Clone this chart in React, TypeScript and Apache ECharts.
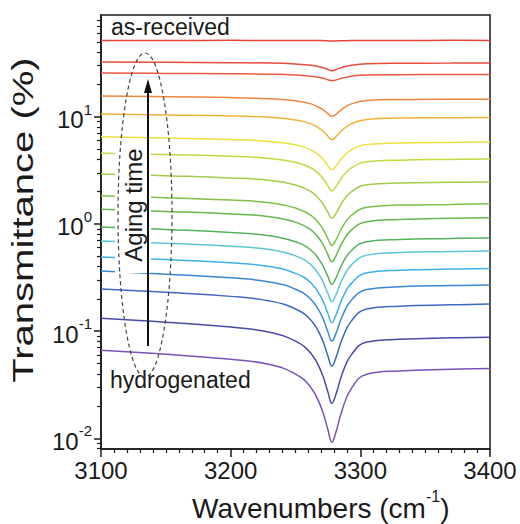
import React, { useEffect, useRef } from "react";
import * as echarts from "echarts";

// Wavenumber sample positions (cm^-1)
const wavenumbers = [3100, 3150, 3200, 3230, 3250, 3262, 3270, 3275, 3278, 3281, 3286, 3293, 3305, 3330, 3370, 3400];

// Transmittance (%) curves, from as-received (top) to hydrogenated (bottom)
const t01 = [51.6, 51.6, 51.7, 51.6, 51.6, 51.5, 51.4, 51.2, 51.0, 51.1, 51.3, 51.5, 51.6, 51.6, 51.7, 51.6];
const t02 = [32.4, 32.3, 32.0, 31.7, 31.1, 30.3, 29.0, 27.6, 26.9, 27.5, 28.9, 30.3, 31.3, 31.6, 31.7, 31.8];
const t03 = [25.6, 25.4, 25.2, 25.0, 24.6, 23.9, 23.1, 22.2, 21.7, 22.0, 23.0, 23.9, 24.6, 24.7, 24.8, 24.8];
const t04 = [15.6, 15.4, 15.1, 14.7, 14.1, 13.2, 11.9, 10.7, 10.1, 10.5, 11.8, 13.2, 14.2, 14.5, 14.6, 14.6];
const t05 = [10.6, 10.4, 10.2, 9.88, 9.34, 8.59, 7.55, 6.58, 6.10, 6.47, 7.50, 8.60, 9.46, 9.72, 9.81, 9.86];
const t06 = [6.50, 6.33, 6.13, 5.89, 5.48, 4.92, 4.19, 3.52, 3.20, 3.44, 4.15, 4.92, 5.53, 5.70, 5.77, 5.81];
const t07 = [4.58, 4.44, 4.28, 4.09, 3.77, 3.33, 2.77, 2.27, 2.03, 2.21, 2.74, 3.33, 3.80, 3.94, 4.00, 4.03];
const t08 = [2.93, 2.82, 2.69, 2.55, 2.31, 2.00, 1.61, 1.28, 1.13, 1.24, 1.59, 1.99, 2.32, 2.41, 2.45, 2.47];
const t09 = [1.83, 1.76, 1.67, 1.58, 1.41, 1.20, 0.943, 0.728, 0.630, 0.703, 0.928, 1.20, 1.43, 1.50, 1.52, 1.54];
const t10 = [1.37, 1.31, 1.24, 1.17, 1.04, 0.879, 0.681, 0.518, 0.445, 0.499, 0.669, 0.876, 1.05, 1.10, 1.13, 1.14];
const t11 = [0.938, 0.889, 0.834, 0.776, 0.683, 0.569, 0.431, 0.322, 0.273, 0.309, 0.422, 0.563, 0.684, 0.716, 0.732, 0.740];
const t12 = [0.693, 0.660, 0.620, 0.577, 0.504, 0.415, 0.308, 0.224, 0.188, 0.215, 0.302, 0.413, 0.512, 0.541, 0.553, 0.560];
const t13 = [0.492, 0.465, 0.434, 0.401, 0.346, 0.281, 0.204, 0.146, 0.120, 0.139, 0.200, 0.279, 0.350, 0.370, 0.379, 0.384];
const t14 = [0.364, 0.340, 0.314, 0.288, 0.246, 0.197, 0.141, 0.0986, 0.0807, 0.0937, 0.137, 0.194, 0.245, 0.259, 0.266, 0.269];
const t15 = [0.247, 0.230, 0.211, 0.191, 0.161, 0.126, 0.0870, 0.0587, 0.0471, 0.0556, 0.0845, 0.124, 0.161, 0.171, 0.176, 0.179];
const t16 = [0.132, 0.121, 0.109, 0.0975, 0.0806, 0.0617, 0.0413, 0.0270, 0.0212, 0.0253, 0.0398, 0.0600, 0.0791, 0.0839, 0.0866, 0.0879];
const t17 = [0.0664, 0.0608, 0.0547, 0.0488, 0.0397, 0.0296, 0.0191, 0.0120, 0.00919, 0.0112, 0.0184, 0.0291, 0.0396, 0.0425, 0.0440, 0.0448];

const curves = [t01, t02, t03, t04, t05, t06, t07, t08, t09, t10, t11, t12, t13, t14, t15, t16, t17];

const curveColors = [
  "#e8403a", "#e84d3e", "#ea5a40", "#ef873e", "#f2b234", "#ebe03c",
  "#c8d845", "#a2cc4a", "#7fc04b", "#66b84e", "#55b35c", "#5cc6d8",
  "#3db0e6", "#3a88d2", "#3d68c2", "#4a4aa8", "#7a52b8",
];

const xTicks = [3100, 3200, 3300, 3400];
const yDecades = [-2, -1, 0, 1];
const yMinLog = -2.1;
const yMaxLog = 1.95;

const FONT = "'Liberation Sans', Arial, Helvetica, sans-serif";
const INK = "#1a1a1a";

export default function App() {
  const ref = useRef<HTMLDivElement>(null);

  useEffect(() => {
    if (!ref.current) return;
    const chart = echarts.init(ref.current, undefined, { renderer: "svg" });

    const minorY: number[] = [];
    for (const d of [-3, -2, -1, 0, 1]) {
      for (let k = 2; k <= 9; k++) {
        const v = d + Math.log10(k);
        if (v > yMinLog && v < yMaxLog) minorY.push(v);
      }
    }

    const series = curves.map((c, i) => ({
      type: "line",
      xAxisIndex: 0,
      yAxisIndex: 0,
      data: wavenumbers.map((w, j) => [w, Math.log10(c[j])]),
      showSymbol: false,
      smooth: 0.45,
      lineStyle: { color: curveColors[i], width: 1.5 },
      z: 2,
    }));

    chart.setOption({
      animation: false,
      grid: {
        left: 101,
        right: 30,
        top: 15,
        bottom: 75,
        show: true,
        borderColor: INK,
        borderWidth: 1.5,
        backgroundColor: "transparent",
      },
      xAxis: {
        type: "value",
        min: xTicks[0],
        max: xTicks[xTicks.length - 1],
        interval: 100,
        axisLine: { onZero: false, lineStyle: { color: INK, width: 1.5 } },
        axisTick: { length: 8, lineStyle: { color: INK, width: 1.5 } },
        minorTick: { show: true, splitNumber: 10, length: 4, lineStyle: { color: INK, width: 1.2 } },
        splitLine: { show: false },
        axisLabel: {
          color: INK,
          fontSize: 24,
          fontFamily: FONT,
          margin: 9,
          formatter: (v: number) => String(v),
        },
      },
      yAxis: [
        {
          type: "value",
          min: yMinLog,
          max: yMaxLog,
          axisLine: { show: true, onZero: false, lineStyle: { color: INK, width: 1.5 } },
          axisTick: { show: true, customValues: yDecades, length: 7, lineStyle: { color: INK, width: 1.5 } },
          splitLine: { show: false },
          axisLabel: {
            customValues: yDecades,
            margin: 9,
            formatter: (v: number) => `{b|10}{s|${Math.round(v)}}`,
            rich: {
              b: { fontSize: 24, lineHeight: 30, verticalAlign: "bottom", fontFamily: FONT, color: INK },
              s: { fontSize: 15, lineHeight: 15, verticalAlign: "top", fontFamily: FONT, color: INK },
            },
          },
        },
        {
          type: "value",
          min: yMinLog,
          max: yMaxLog,
          position: "left",
          axisLine: { show: false, onZero: false },
          axisTick: { show: true, customValues: minorY, length: 4, lineStyle: { color: INK, width: 1.2 } },
          axisLabel: { show: false },
          splitLine: { show: false },
        },
      ],
      series,
      graphic: [
        {
          type: "text",
          x: 192,
          y: 505,
          style: {
            text: "{t|Wavenumbers (cm}{s|-1}{t|)}",
            rich: {
              t: { fontSize: 28, fontFamily: FONT, fill: INK, lineHeight: 34, verticalAlign: "bottom" },
              s: { fontSize: 16, fontFamily: FONT, fill: INK, lineHeight: 16, verticalAlign: "top" },
            },
            textVerticalAlign: "middle",
          },
        },
        {
          type: "text",
          x: 23,
          y: 220,
          rotation: Math.PI / 2,
          scaleX: 1.38,
          style: {
            text: "Transmittance (%)",
            fontSize: 29,
            fontFamily: FONT,
            fill: INK,
            textAlign: "center",
            textVerticalAlign: "middle",
          },
        },
        {
          type: "text",
          x: 111,
          y: 27,
          style: { text: "as-received", fontSize: 23, fontFamily: FONT, fill: INK, textVerticalAlign: "middle" },
          z: 10,
        },
        {
          type: "text",
          x: 110,
          y: 380,
          style: { text: "hydrogenated", fontSize: 23, fontFamily: FONT, fill: INK, textVerticalAlign: "middle" },
          z: 10,
        },
        {
          type: "rect",
          shape: { x: 115, y: 143, width: 36, height: 130 },
          style: { fill: "#ffffff" },
          z: 10,
        },
        {
          type: "text",
          x: 133,
          y: 205,
          rotation: Math.PI / 2,
          style: {
            text: "Aging time",
            fontSize: 24,
            fontFamily: FONT,
            fill: INK,
            textAlign: "center",
            textVerticalAlign: "middle",
          },
          z: 11,
        },
        {
          type: "ellipse",
          shape: { cx: 145, cy: 215, rx: 27, ry: 162 },
          style: { fill: "none", stroke: "#444", lineWidth: 1.2, lineDash: [4, 3] },
          z: 12,
        },
        {
          type: "line",
          shape: { x1: 148, y1: 346, x2: 148, y2: 90 },
          style: { stroke: "#111", lineWidth: 2 },
          z: 12,
        },
        {
          type: "polygon",
          shape: { points: [[148, 79], [144, 93], [152, 93]] },
          style: { fill: "#111" },
          z: 12,
        },
      ],
    });

    return () => chart.dispose();
  }, []);

  return (
    <div
      ref={ref}
      style={{ position: "fixed", left: 0, top: 0, width: 520, height: 524, background: "#fff" }}
    />
  );
}
